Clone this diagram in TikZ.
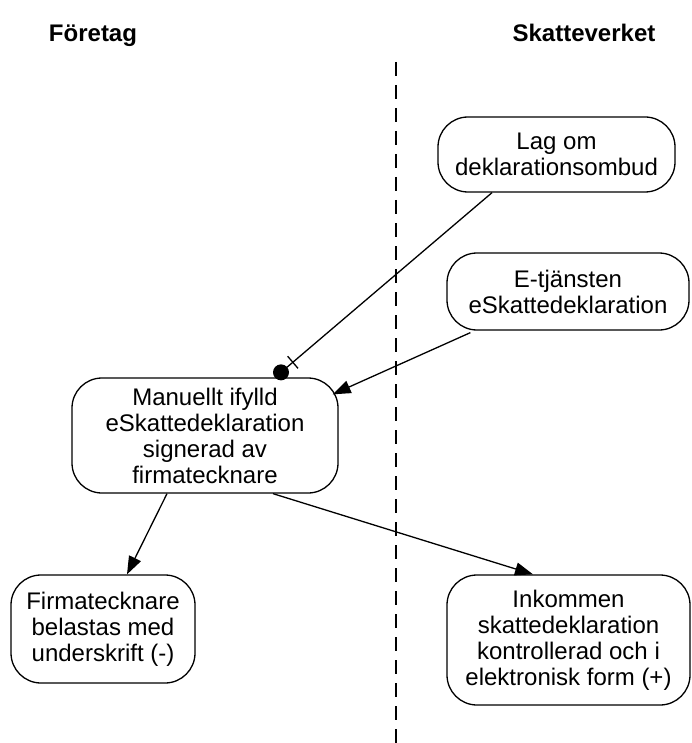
\documentclass[tikz,border=0pt]{standalone}
\usepackage{fontspec}
\setmainfont{Liberation Sans}
\usetikzlibrary{arrows.meta,positioning,calc}
\tikzset{
  >={Triangle[length=18pt,width=13pt]},
  box/.style={draw,rounded corners=30pt,line width=1.3pt,inner sep=2pt,align=center,font=\fontsize{24}{26}\selectfont,fill=white},
  head/.style={font=\fontsize{24}{26}\selectfont\bfseries,anchor=base},
  arr/.style={->,line width=1.3pt},
  link/.style={line width=1.3pt},
  dot/.style={circle,fill,inner sep=0pt,minimum size=16pt},
  tick/.style={draw,line width=1.3pt,inner sep=0pt,minimum width=0pt,minimum height=16pt},
  lane/.style={line width=1.6pt,dash pattern=on 14pt off 9pt},
}

\begin{document}
\begin{tikzpicture}[x=1pt,y=-1pt]
\useasboundingbox (0,0) rectangle (691,743);

% swimlane headers and divider
\node[head] (foretag) at (93,42) {Företag};
\node[head] (skv) at (584,42) {Skatteverket};
\coordinate (lanetop) at (396,62);
\coordinate (lanebot) at (396,743);
\draw[lane] (lanetop) -- (lanebot);

\node[box,minimum width=237pt,minimum height=75pt] (lag) at (556.5,154.5) {Lag om\\deklarationsombud};
\node[box,minimum width=242pt,minimum height=77pt] (etj) at (568,291.5) {E-tjänsten\\eSkattedeklaration};
\node[box,minimum width=266pt,minimum height=115pt] (man) at (205,435.5) {Manuellt ifylld\\eSkattedeklaration\\signerad av\\firmatecknare};
\node[box,minimum width=184pt,minimum height=108pt] (firma) at (103,629) {Firmatecknare\\belastas med\\underskrift (-)};
\node[box,minimum width=243pt,minimum height=130pt] (ink) at (568.5,640) {Inkommen\\skattedeklaration\\kontrollerad och i\\elektronisk form (+)};

\node[dot] (dot) at ($(man.north)+(76,-5)$) {};

\draw[link] ($(lag.south)+(-64.5,0)$) -- node[tick,sloped,pos=0.944] (lagtick) {} (dot.center);
\draw[arr] ($(etj.south west)+(24,2)$) -- ($(man.north east)+(-6,17)$);
\draw[arr] ($(man.south)+(-38,0)$) -- ($(firma.north)+(24,0)$);
\draw[arr] ($(man.south)+(68,0)$) -- ($(ink.north)+(-35.5,0)$);
\end{tikzpicture}
\end{document}
